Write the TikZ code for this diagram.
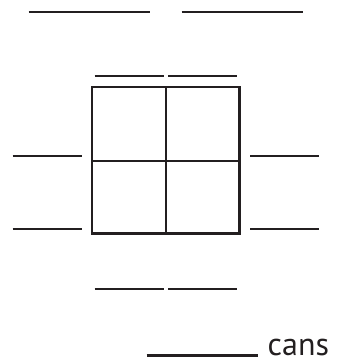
\documentclass[tikz,border=0pt]{standalone}
\usepackage{fontspec}
\setmainfont{PT Sans}
\definecolor{ink}{HTML}{231F20}
\begin{document}
\begin{tikzpicture}[x=1pt,y=-1pt,
  blank/.style={draw=ink,line width=2.2pt},
  grid/.style={draw=ink,line width=2.4pt},
  lbl/.style={text=ink,font=\fontsize{32}{36}\selectfont,inner sep=0pt,anchor=base west}]
\useasboundingbox (0,0) rectangle (342,361);
% top blanks
\draw[blank] (28.7,12.3) -- (150,12.3);
\draw[blank] (181.7,12.3) -- (303.3,12.3);
% above square
\draw[blank] (94.7,76.3) -- (164,76.3);
\draw[blank] (168,76.3) -- (237.3,76.3);
% square grid
\draw[grid] (92,87) rectangle (239.3,233.3);
\draw[grid] (165.7,87) -- (165.7,233.3);
\draw[grid] (92,160.7) -- (239.3,160.7);
% left blanks
\draw[blank] (12.7,155.7) -- (81.7,155.7);
\draw[blank] (12.7,229) -- (81.7,229);
% right blanks
\draw[blank] (250,155.7) -- (319.3,155.7);
\draw[blank] (250,229) -- (319.3,229);
% below square
\draw[blank] (94.7,289.3) -- (164,289.3);
\draw[blank] (168,289.3) -- (237.3,289.3);
% answer line
\draw[blank] (146.7,355.5) -- (258.3,355.5);
\node[lbl] (cans) at (267.5,355.7) {cans};
\end{tikzpicture}
\end{document}
